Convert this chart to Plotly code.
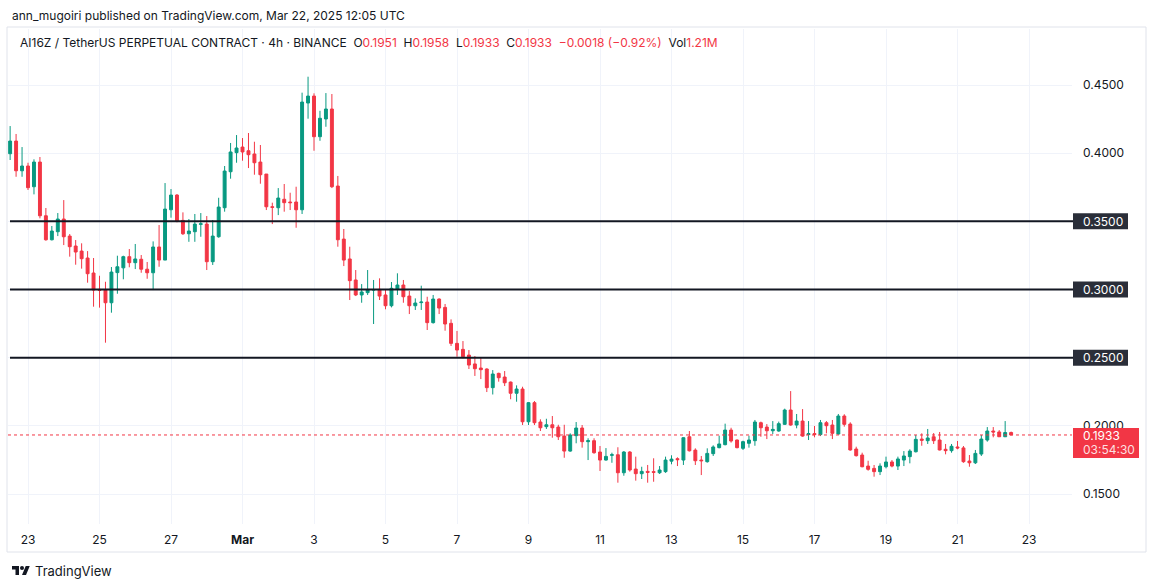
import pandas as pd
import plotly.graph_objects as go

W, H = 1154, 587
L, R, T, B = 8, 82, 29, 63

UP = "#089981"
DOWN = "#F23645"
INK = "#131722"
GRID = "#f0f3fa"

# 4h candles, AI16Z/USDT perp, Feb 22 12:00 -> Mar 22 12:00 (UTC)
times = pd.date_range("2025-02-22 12:00", periods=169, freq="4h")

opens = [
    0.3996, 0.4089, 0.3871, 0.3906, 0.3754, 0.3935, 0.3541, 0.3365, 0.3424, 0.3517,
    0.3392, 0.3319, 0.3282, 0.3231, 0.3121, 0.3001, 0.2996, 0.2903, 0.3124, 0.3159,
    0.3241, 0.3197, 0.3222, 0.3149, 0.3123, 0.3312, 0.3216, 0.3585, 0.3693, 0.3507,
    0.3409, 0.3424, 0.3478, 0.3480, 0.3204, 0.3387, 0.3600, 0.3864, 0.4004, 0.4045,
    0.4018, 0.3994, 0.3935, 0.3847, 0.3607, 0.3600, 0.3662, 0.3642, 0.3642, 0.3585,
    0.4368, 0.4419, 0.4121, 0.4251, 0.4324, 0.3759, 0.3370, 0.3224, 0.3070, 0.2960,
    0.2977, 0.2996, 0.3001, 0.2960, 0.2881, 0.3004, 0.3033, 0.2952, 0.2881, 0.2904,
    0.2908, 0.2757, 0.2930, 0.2869, 0.2752, 0.2605, 0.2561, 0.2519, 0.2454, 0.2424,
    0.2417, 0.2280, 0.2385, 0.2358, 0.2321, 0.2239, 0.2270, 0.2030, 0.2170, 0.2028,
    0.1994, 0.2008, 0.1991, 0.1925, 0.1815, 0.1928, 0.1984, 0.1884, 0.1891, 0.1808,
    0.1749, 0.1784, 0.1788, 0.1656, 0.1808, 0.1683, 0.1649, 0.1666, 0.1664, 0.1656,
    0.1664, 0.1741, 0.1759, 0.1749, 0.1920, 0.1822, 0.1749, 0.1737, 0.1796, 0.1840,
    0.1862, 0.1969, 0.1896, 0.1835, 0.1872, 0.1891, 0.2023, 0.1991, 0.1964, 0.1962,
    0.2011, 0.2116, 0.2006, 0.2035, 0.1936, 0.1943, 0.1936, 0.2023, 0.2006, 0.1940,
    0.2072, 0.2013, 0.1830, 0.1786, 0.1705, 0.1688, 0.1664, 0.1700, 0.1735, 0.1705,
    0.1749, 0.1774, 0.1810, 0.1903, 0.1891, 0.1920, 0.1896, 0.1828, 0.1818, 0.1845,
    0.1838, 0.1742, 0.1729, 0.1793, 0.1896, 0.1962, 0.1955, 0.1920, 0.1951,
]
highs = [
    0.4199, 0.4141, 0.4045, 0.3930, 0.3955, 0.3972, 0.3598, 0.3466, 0.3561, 0.3656,
    0.3407, 0.3363, 0.3339, 0.3282, 0.3231, 0.3101, 0.3057, 0.3165, 0.3248, 0.3248,
    0.3297, 0.3334, 0.3253, 0.3202, 0.3353, 0.3473, 0.3781, 0.3737, 0.3700, 0.3566,
    0.3517, 0.3554, 0.3561, 0.3539, 0.3510, 0.3673, 0.3906, 0.4075, 0.4133, 0.4111,
    0.4148, 0.4084, 0.4060, 0.3847, 0.3637, 0.3744, 0.3774, 0.3710, 0.3754, 0.4444,
    0.4561, 0.4439, 0.4311, 0.4441, 0.4434, 0.3833, 0.3444, 0.3314, 0.3143, 0.3040,
    0.3143, 0.3070, 0.3082, 0.2996, 0.3055, 0.3119, 0.3070, 0.2989, 0.2935, 0.3028,
    0.2947, 0.2960, 0.2935, 0.2894, 0.2781, 0.2696, 0.2622, 0.2556, 0.2512, 0.2498,
    0.2422, 0.2409, 0.2390, 0.2402, 0.2325, 0.2297, 0.2287, 0.2175, 0.2182, 0.2048,
    0.2052, 0.2072, 0.2008, 0.2008, 0.1945, 0.2028, 0.2006, 0.1909, 0.1909, 0.1852,
    0.1837, 0.1803, 0.1843, 0.1815, 0.1815, 0.1774, 0.1700, 0.1713, 0.1762, 0.1705,
    0.1774, 0.1784, 0.1769, 0.1916, 0.1962, 0.1835, 0.1779, 0.1835, 0.1857, 0.1928,
    0.2016, 0.1986, 0.1900, 0.1891, 0.1928, 0.2043, 0.2031, 0.2013, 0.2035, 0.2031,
    0.2126, 0.2255, 0.2087, 0.2123, 0.2035, 0.1999, 0.2043, 0.2035, 0.2043, 0.2087,
    0.2085, 0.2026, 0.1847, 0.1803, 0.1744, 0.1713, 0.1725, 0.1774, 0.1749, 0.1774,
    0.1815, 0.1828, 0.1933, 0.1945, 0.1977, 0.1947, 0.1955, 0.1867, 0.1867, 0.1889,
    0.1852, 0.1786, 0.1823, 0.1933, 0.1991, 0.1991, 0.1969, 0.2035, 0.1958,
]
lows = [
    0.3950, 0.3827, 0.3827, 0.3730, 0.3698, 0.3522, 0.3358, 0.3360, 0.3392, 0.3326,
    0.3241, 0.3182, 0.3153, 0.3050, 0.2874, 0.2867, 0.2610, 0.2830, 0.2969, 0.3075,
    0.3163, 0.3150, 0.3123, 0.3079, 0.2996, 0.3167, 0.3216, 0.3527, 0.3493, 0.3400,
    0.3350, 0.3350, 0.3387, 0.3143, 0.3180, 0.3380, 0.3571, 0.3813, 0.3930, 0.3945,
    0.3891, 0.3842, 0.3776, 0.3583, 0.3480, 0.3546, 0.3571, 0.3583, 0.3453, 0.3554,
    0.4253, 0.4018, 0.4091, 0.4194, 0.3744, 0.3314, 0.3172, 0.2923, 0.2952, 0.2903,
    0.2960, 0.2747, 0.2923, 0.2855, 0.2869, 0.2960, 0.2903, 0.2820, 0.2850, 0.2850,
    0.2703, 0.2750, 0.2820, 0.2698, 0.2586, 0.2507, 0.2495, 0.2417, 0.2366, 0.2343,
    0.2248, 0.2230, 0.2324, 0.2292, 0.2195, 0.2177, 0.2006, 0.2006, 0.2006, 0.1962,
    0.1977, 0.1913, 0.1896, 0.1766, 0.1810, 0.1872, 0.1840, 0.1749, 0.1795, 0.1669,
    0.1745, 0.1729, 0.1583, 0.1634, 0.1664, 0.1598, 0.1610, 0.1583, 0.1590, 0.1647,
    0.1655, 0.1718, 0.1705, 0.1713, 0.1812, 0.1713, 0.1639, 0.1730, 0.1779, 0.1835,
    0.1857, 0.1877, 0.1835, 0.1823, 0.1840, 0.1854, 0.1920, 0.1903, 0.1940, 0.1957,
    0.2008, 0.2001, 0.1982, 0.1920, 0.1896, 0.1916, 0.1925, 0.1945, 0.1903, 0.1935,
    0.1994, 0.1818, 0.1775, 0.1696, 0.1671, 0.1627, 0.1639, 0.1688, 0.1696, 0.1676,
    0.1705, 0.1725, 0.1805, 0.1854, 0.1867, 0.1867, 0.1820, 0.1791, 0.1803, 0.1828,
    0.1729, 0.1700, 0.1720, 0.1779, 0.1884, 0.1916, 0.1918, 0.1918, 0.1933,
]
closes = [
    0.4089, 0.3871, 0.3906, 0.3747, 0.3935, 0.3541, 0.3365, 0.3429, 0.3517, 0.3387,
    0.3314, 0.3275, 0.3226, 0.3116, 0.2996, 0.2994, 0.2903, 0.3128, 0.3167, 0.3241,
    0.3197, 0.3224, 0.3149, 0.3123, 0.3312, 0.3216, 0.3590, 0.3693, 0.3500, 0.3409,
    0.3429, 0.3480, 0.3482, 0.3204, 0.3392, 0.3605, 0.3869, 0.4009, 0.4038, 0.4009,
    0.3989, 0.3930, 0.3842, 0.3607, 0.3603, 0.3671, 0.3637, 0.3637, 0.3585, 0.4375,
    0.4419, 0.4121, 0.4256, 0.4324, 0.3754, 0.3365, 0.3216, 0.3065, 0.2960, 0.2982,
    0.2996, 0.2999, 0.2952, 0.2881, 0.3009, 0.3033, 0.2947, 0.2881, 0.2901, 0.2908,
    0.2757, 0.2930, 0.2864, 0.2747, 0.2605, 0.2556, 0.2507, 0.2446, 0.2419, 0.2412,
    0.2280, 0.2380, 0.2353, 0.2316, 0.2239, 0.2270, 0.2030, 0.2170, 0.2023, 0.1986,
    0.2008, 0.1986, 0.1920, 0.1815, 0.1933, 0.1984, 0.1884, 0.1891, 0.1803, 0.1749,
    0.1776, 0.1788, 0.1656, 0.1808, 0.1676, 0.1649, 0.1666, 0.1659, 0.1659, 0.1676,
    0.1749, 0.1756, 0.1752, 0.1913, 0.1817, 0.1744, 0.1744, 0.1798, 0.1845, 0.1867,
    0.1969, 0.1889, 0.1840, 0.1884, 0.1896, 0.2028, 0.1986, 0.1964, 0.1974, 0.2016,
    0.2116, 0.2006, 0.2035, 0.1925, 0.1943, 0.1936, 0.2023, 0.2001, 0.1945, 0.2072,
    0.2011, 0.1823, 0.1781, 0.1700, 0.1681, 0.1664, 0.1705, 0.1735, 0.1705, 0.1757,
    0.1779, 0.1815, 0.1901, 0.1894, 0.1911, 0.1891, 0.1823, 0.1818, 0.1850, 0.1838,
    0.1737, 0.1729, 0.1798, 0.1903, 0.1962, 0.1955, 0.1920, 0.1951, 0.1933,
]

level_lines = [0.35, 0.30, 0.25]
price_ticks = [0.15, 0.20, 0.25, 0.30, 0.35, 0.40, 0.45]
date_ticks = ["2025-02-23", "2025-02-25", "2025-02-27", "2025-03-01", "2025-03-03",
              "2025-03-05", "2025-03-07", "2025-03-09", "2025-03-11", "2025-03-13",
              "2025-03-15", "2025-03-17", "2025-03-19", "2025-03-21", "2025-03-23"]
date_labels = ["23", "25", "27", "<b>Mar</b>", "3", "5", "7", "9", "11", "13",
               "15", "17", "19", "21", "23"]
countdown = "03:54:30"
volume_text = "1.21M"

PW, PH = W - L - R, H - T - B


def px(x):
    return (x - L) / PW


def py(y):
    return 1 - (y - T) / PH


fig = go.Figure(go.Candlestick(
    x=times, open=opens, high=highs, low=lows, close=closes,
    increasing=dict(line=dict(color=UP, width=1), fillcolor=UP),
    decreasing=dict(line=dict(color=DOWN, width=1), fillcolor=DOWN),
    whiskerwidth=0, showlegend=False, hoverinfo="skip",
))

shapes = []
annotations = []


def note(x, y, text, yref="paper", **kw):
    annotations.append(dict(xref="paper", yref=yref, x=x, y=y, text=text, showarrow=False,
                            xanchor="left", yanchor="middle", **kw))


# chart frame
shapes.append(dict(type="rect", xref="paper", yref="paper", x0=px(7), x1=px(1146),
                   y0=py(552), y1=py(27), line=dict(color="#e0e3eb", width=1), layer="below"))

# horizontal levels with their axis labels
for lvl in level_lines:
    shapes.append(dict(type="line", xref="paper", yref="y", x0=px(10), x1=px(1074),
                       y0=lvl, y1=lvl, line=dict(color=INK, width=2)))
    shapes.append(dict(type="rect", xref="paper", yref="y", ysizemode="pixel", yanchor=lvl,
                       x0=px(1073), x1=px(1128), y0=-8, y1=8,
                       fillcolor="#2a2e39", line=dict(width=0)))
    note(px(1081), lvl, f"{lvl:.4f}", yref="y", font=dict(color="white", size=12))

# last price line + label
last = closes[-1]
shapes.append(dict(type="line", xref="paper", yref="y", x0=0, x1=1, y0=last, y1=last,
                   line=dict(color=DOWN, width=1, dash="dot")))
shapes.append(dict(type="rect", xref="paper", yref="y", ysizemode="pixel", yanchor=last,
                   x0=px(1073), x1=px(1139), y0=-23, y1=7,
                   fillcolor=DOWN, line=dict(width=0)))
note(px(1081), last, f"{last:.4f}", yref="y", yshift=-1, font=dict(color="white", size=12))
note(px(1081), last, countdown, yref="y", yshift=-15,
     font=dict(color="rgba(255,255,255,0.85)", size=12))

# header lines
note(px(10), py(15), "ann_mugoiri published on TradingView.com, Mar 22, 2025 12:05 UTC",
     font=dict(size=12, color=INK))

chg = closes[-1] - closes[-2]
pct = chg / closes[-2] * 100


def red(s):
    return f"<span style='color:{DOWN}'>{s}</span>"


header = ("AI16Z / TetherUS PERPETUAL CONTRACT · 4h · BINANCE\u00a0\u00a0"
          f"O{red(f'{opens[-1]:.4f}')}\u00a0\u00a0H{red(f'{highs[-1]:.4f}')}\u00a0\u00a0"
          f"L{red(f'{lows[-1]:.4f}')}\u00a0\u00a0C{red(f'{closes[-1]:.4f}')}\u00a0\u00a0"
          + red(f"{chg:+.4f} ({pct:+.2f}%)".replace("-", "\u2212"))
          + f"\u00a0\u00a0Vol{red(volume_text)}")
note(px(18), py(43), header, font=dict(size=12, color=INK))

# footer logo + wordmark
s, ox, oy = 0.5, 12, 564


def tv_path(points):
    pts = [(px(ox + s * a), py(oy + s * b)) for a, b in points]
    return "M" + "L".join(f"{a:.5f},{b:.5f}" for a, b in pts) + "Z"


shapes.append(dict(type="path", xref="paper", yref="paper",
                   path=tv_path([(0, 4), (14, 4), (14, 22), (7, 22), (7, 11), (0, 11)]),
                   fillcolor=INK, line=dict(width=0)))
shapes.append(dict(type="path", xref="paper", yref="paper",
                   path=tv_path([(20, 22), (27.5, 4), (35.5, 4), (28, 22)]),
                   fillcolor=INK, line=dict(width=0)))
shapes.append(dict(type="circle", xref="paper", yref="paper",
                   x0=px(ox + s * 16), x1=px(ox + s * 24), y0=py(oy + s * 12), y1=py(oy + s * 4),
                   fillcolor=INK, line=dict(width=0)))
note(px(33), py(571), "TradingView", font=dict(size=13, color=INK))

fig.update_layout(
    width=W, height=H,
    margin=dict(l=L, r=R, t=T, b=B),
    paper_bgcolor="white", plot_bgcolor="white",
    font=dict(family="Inter, Roboto, sans-serif", size=12, color=INK),
    showlegend=False, hovermode=False,
    shapes=shapes, annotations=annotations,
    xaxis=dict(
        type="date", range=["2025-02-22 10:34", "2025-03-24 04:52"],
        rangeslider=dict(visible=False),
        tickvals=date_ticks, ticktext=date_labels,
        showgrid=True, gridcolor=GRID, gridwidth=1,
        zeroline=False, showline=False, ticks="", ticklabelstandoff=7,
        tickfont=dict(size=12, color=INK),
    ),
    yaxis=dict(
        side="right", range=[0.128, 0.4911],
        tickvals=price_ticks, tickformat=".4f",
        showgrid=True, gridcolor=GRID, gridwidth=1,
        zeroline=False, showline=False, ticks="", ticklabelstandoff=10,
        tickfont=dict(size=12, color=INK),
    ),
)

fig.write_html("out.html", config={"displayModeBar": False},
               post_script="document.body.style.margin='0';")
